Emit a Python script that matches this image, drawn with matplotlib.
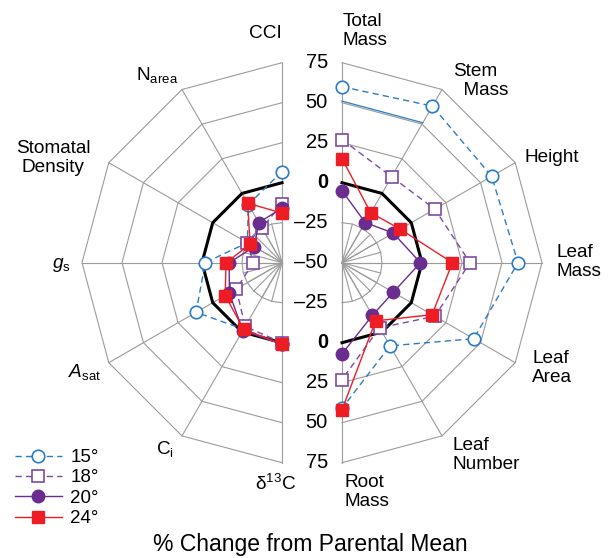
import numpy as np
import matplotlib
matplotlib.use("Agg")
import matplotlib.pyplot as plt

plt.rcParams['font.family'] = ['Liberation Sans', 'DejaVu Sans']
plt.rcParams['mathtext.fontset'] = 'custom'
plt.rcParams['mathtext.rm'] = 'Liberation Sans'
plt.rcParams['mathtext.it'] = 'Liberation Sans:italic'
plt.rcParams['mathtext.bf'] = 'Liberation Sans:bold'

# ---------------- data ----------------
right_axes = ["Total\nMass", "Stem\n  Mass", "Height", "Leaf\nMass", "Leaf\nArea", "Leaf\nNumber", "Root\nMass"]
left_axes = ["CCI", "N$_{\\mathrm{area}}$", "Stomatal\nDensity", "$g_{\\mathrm{s}}$", "$A_{\\mathrm{sat}}$",
             "C$_{\\mathrm{i}}$", "δ$^{\\mathrm{13}}$C"]

series_labels = ["15°", "18°", "20°", "24°"]
right_15 = [60, 63, 58, 60, 45, 10, 41]
right_18 = [27, 12, 17, 30, 17, -3, 23]
right_20 = [-5, -21, -13, -1, -13, -12, 7]
right_24 = [15, -14, -8, 19, 15, -8, 42]

left_15 = [7, -8, -25, -2, 12, -2, 1]
left_18 = [-13, -25, -25, -32, -17, -4, 0]
left_20 = [-16, -21, -30, -17, -12, -1, 1]
left_24 = [-19, -7, -27, -15, -9, -2, 1]

parental = [0, 0, 0, 0, 0, 0, 0]
blue_segment = [51, 51]          # solid blue segment between Total Mass and Stem Mass

ring_values = [-25, 0, 25, 50, 75]
tick_values_top = [75, 50, 25, 0, -25]
tick_values_bottom = [-25, 0, 25, 50, 75]
center_value = -50

# ---------------- geometry ----------------
W, H = 612, 558
S = 1.6                     # pixels per unit
CX_R, CY = 342, 262.7       # right-half centre (pixels)
GAP = 60                    # left centre is GAP pixels to the left

right_angles = np.deg2rad([90, 60, 30, 0, -30, -60, -90])
left_angles = np.deg2rad([90, 120, 150, 180, 210, 240, 270])
left_cx = -GAP / S


def rad(v):
    return np.asarray(v, dtype=float) - center_value


def to_xy(values, angles, cx=0.0):
    r = rad(values)
    return cx + r * np.cos(angles), r * np.sin(angles)


def px(x, y):
    return (x - CX_R) / S, (CY - y) / S


fig = plt.figure(figsize=(W / 100, H / 100), dpi=100)
ax = fig.add_axes([0, 0, 1, 1])
ax.set_xlim(-CX_R / S, (W - CX_R) / S)
ax.set_ylim(-(H - CY) / S, CY / S)
ax.axis('off')

grid_c = '#9b9b9b'
grid_lw = 0.8


def draw_grid(angles, cx, a0, a1):
    # major spokes
    for a in angles:
        x, y = to_xy([center_value, ring_values[-1]], np.array([a, a]), cx)
        ax.plot(x, y, color=grid_c, lw=grid_lw, zorder=1)
    # fine inner spokes and inner ring
    step = 15 if a1 > a0 else -15
    fine = np.deg2rad(np.arange(a0, a1 + step / 2, step))
    for a in fine:
        x, y = to_xy([center_value, ring_values[0]], np.array([a, a]), cx)
        ax.plot(x, y, color=grid_c, lw=grid_lw, zorder=1)
    x, y = to_xy([ring_values[0]] * len(fine), fine, cx)
    ax.plot(x, y, color=grid_c, lw=grid_lw, zorder=1)
    for rv in ring_values[1:]:
        x, y = to_xy([rv] * len(angles), angles, cx)
        ax.plot(x, y, color=grid_c, lw=grid_lw, zorder=1)


draw_grid(right_angles, 0.0, 90, -90)
draw_grid(left_angles, left_cx, 90, 270)

# parental mean (black)
for ang, cx in ((right_angles, 0.0), (left_angles, left_cx)):
    x, y = to_xy(parental, ang, cx)
    ax.plot(x, y, color='black', lw=2.2, zorder=2, solid_joinstyle='miter')

blue = '#2b7cc4'
purple = '#6a2c8f'
purple_l = '#7b4aa3'
red = '#ee1c25'

styles = [
    dict(color=blue, ls=(0, (4.5, 3)), marker='o', mfc='white', mec=blue, ms=9, mew=1.2, lw=1.0),
    dict(color=purple_l, ls=(0, (4.5, 3)), marker='s', mfc='white', mec=purple_l, ms=8.5, mew=1.2, lw=1.0),
    dict(color=purple, ls='-', marker='o', mfc=purple, mec=purple, ms=9, lw=1.0),
    dict(color=red, ls='-', marker='s', mfc=red, mec=red, ms=8.5, lw=1.0),
]

right_series = [right_15, right_18, right_20, right_24]
left_series = [left_15, left_18, left_20, left_24]

# solid blue segment
bx, by = to_xy(blue_segment, right_angles[:2], 0.0)
ax.plot(bx, by, color=blue, lw=0.9, zorder=2)

handles = []
for i, (rs, ls, st) in enumerate(zip(right_series, left_series, styles)):
    x, y = to_xy(rs, right_angles, 0.0)
    h, = ax.plot(x, y, zorder=3 + i, label=series_labels[i], **st)
    handles.append(h)
    x, y = to_xy(ls, left_angles, left_cx)
    ax.plot(x, y, zorder=3 + i, **st)

# ---------------- scale labels ----------------
tick_fs = 14.5
tick_x = px(328, 0)[0]
for v in tick_values_top:
    lab = f"{v}".replace('-', '\u2013')
    ax.text(tick_x, rad(v), lab, ha='right', va='center', fontsize=tick_fs,
            fontweight='bold' if v == 0 else 'normal')
ax.text(tick_x, 0, '\u201350', ha='right', va='center', fontsize=tick_fs)
for v in tick_values_bottom:
    lab = f"{v}".replace('-', '\u2013')
    ax.text(tick_x, -rad(v), lab, ha='right', va='center', fontsize=tick_fs,
            fontweight='bold' if v == 0 else 'normal')

# ---------------- axis labels ----------------
lab_fs = 13.7
right_label_pos = [(343, 31, 'left'), (453, 81, 'left'), (552, 158, 'center'), (557, 262, 'left'),
                   (532, 368, 'left'), (452, 455, 'left'), (345, 492, 'left')]
left_label_pos = [(282, 34, 'right'), (157, 75, 'center'), (53, 158, 'center'), (61, 265, 'center'),
                  (85, 372, 'center'), (165, 449, 'center'), (276, 484, 'center')]
for lab, (x, y, ha) in zip(right_axes, right_label_pos):
    ax.text(*px(x, y), lab, ha=ha, va='center', fontsize=lab_fs, linespacing=1.15, multialignment='left')
for lab, (x, y, ha) in zip(left_axes, left_label_pos):
    ax.text(*px(x, y), lab, ha=ha, va='center', fontsize=lab_fs, linespacing=1.15, multialignment='center')

ax.text(*px(310, 545), "% Change from Parental Mean", ha='center', va='center', fontsize=16.5)

leg = ax.legend(handles=handles, loc='upper left', bbox_to_anchor=(15 / W, 1 - 449 / H),
                bbox_transform=fig.transFigure, frameon=False, fontsize=13.5, handlelength=2.5,
                handletextpad=0.45, labelspacing=0.17, borderpad=0, borderaxespad=0)

fig.savefig("out.png", dpi=100)
